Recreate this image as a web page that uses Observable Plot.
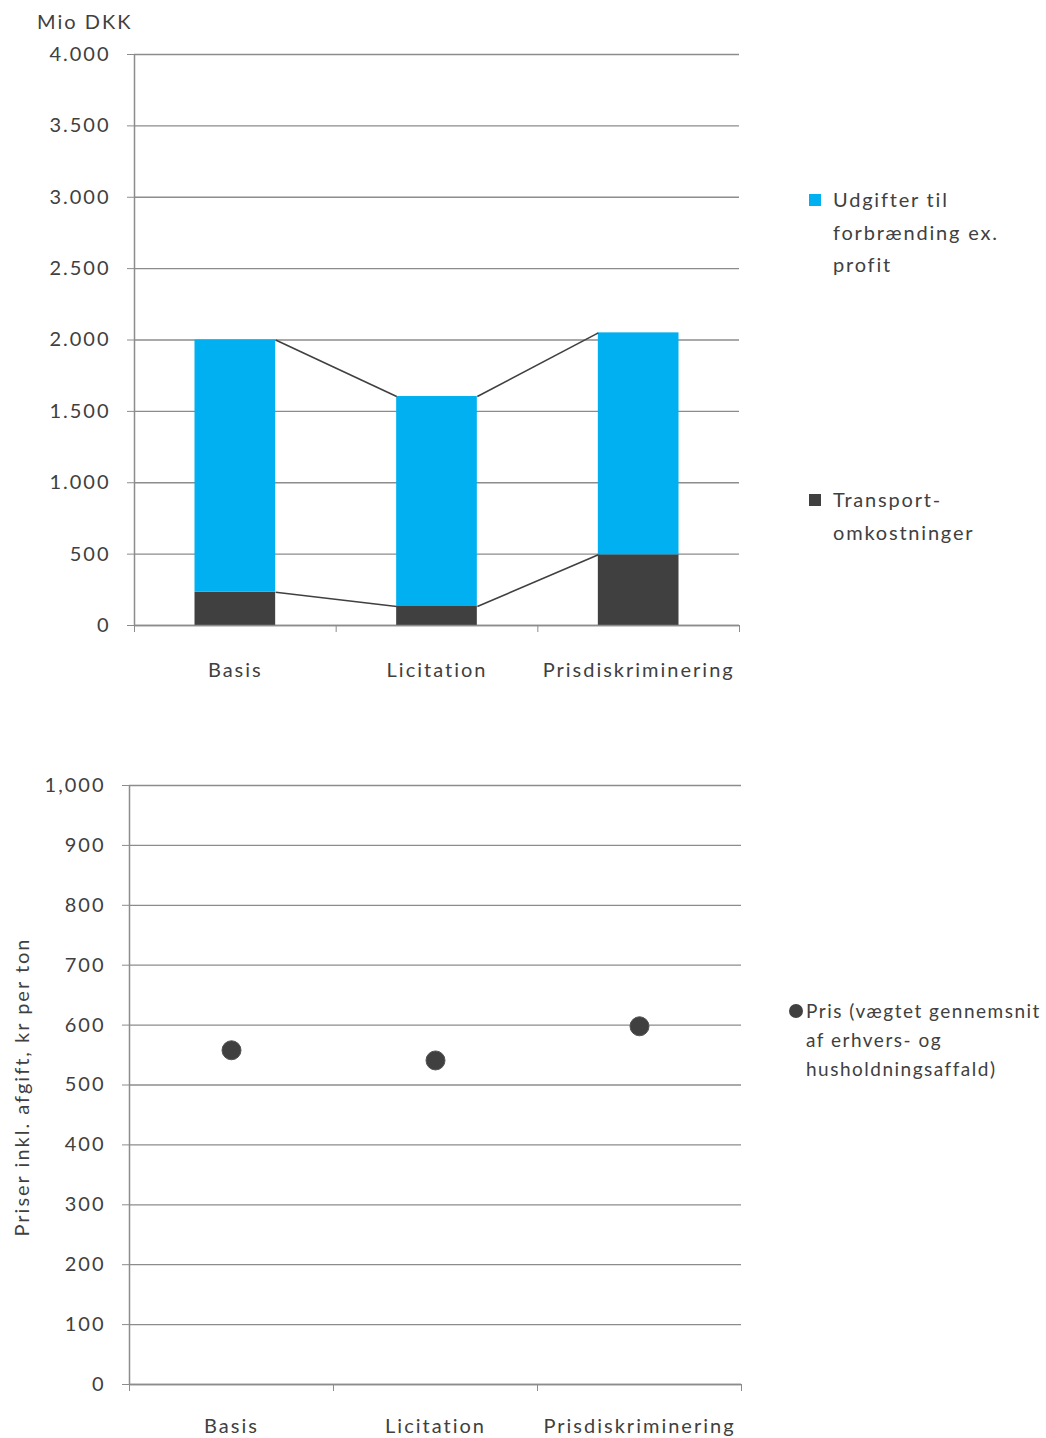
<!DOCTYPE html>
<html><head><meta charset="utf-8">
<script src="https://cdn.jsdelivr.net/npm/d3@7"></script>
<script src="https://cdn.jsdelivr.net/npm/@observablehq/plot@0.6"></script>
<style>
body{margin:0;background:#fff;font-family:Lato,sans-serif;color:#404040}
#wrap{position:relative;width:1046px;height:1438px;overflow:hidden;background:#fff}
.chart{position:absolute;left:0}
.txt{position:absolute;font-size:20px;letter-spacing:2px;white-space:nowrap;color:#404040}
.leg{position:absolute;font-size:20px;letter-spacing:1.8px;line-height:32.5px;white-space:nowrap;color:#404040}
.sq{position:absolute;width:12px;height:12px}
.dt{position:absolute;width:14px;height:14px;border-radius:50%;background:#404040}
</style></head><body>
<div id="wrap">
  <div id="chartTop" class="chart" style="top:0"></div>
  <div id="chartBot" class="chart" style="top:720px"></div>
  <div class="txt" style="left:37px;top:9px">Mio DKK</div>
  <div class="sq" style="left:809px;top:194px;background:#00b0f0"></div>
  <div class="leg" style="left:833px;top:183px">Udgifter til<br>forbrænding ex.<br>profit</div>
  <div class="sq" style="left:809px;top:494px;background:#404040"></div>
  <div class="leg" style="left:833px;top:483px">Transport-<br>omkostninger</div>
  <div class="dt" style="left:789px;top:1004px"></div>
  <div class="leg" style="left:806px;top:996px;font-size:19px;letter-spacing:1.5px;line-height:29px">Pris (vægtet gennemsnit<br>af erhvers- og<br>husholdningsaffald)</div>
</div>
<script>
// ---- data ----
const categories = ["Basis", "Licitation", "Prisdiskriminering"];
const transport = [233, 133, 495];          // Transportomkostninger, mio DKK
const udgifter = [1767, 1471, 1555];        // Udgifter til forbrænding ex. profit, mio DKK
const pris = [558, 541, 598];               // Pris inkl. afgift, kr per ton
const topTicks = [0, 500, 1000, 1500, 2000, 2500, 3000, 3500, 4000];
const botTicks = [0, 100, 200, 300, 400, 500, 600, 700, 800, 900, 1000];

const BLUE = "#00b0f0", DARK = "#404040", GRID = "#8c8c8c";
const hw = 0.2; // half bar width in category units
const dk = d3.formatLocale({decimal: ",", thousands: ".", grouping: [3], currency: ["", ""]}).format(",d");
const en = d3.format(",d");

const idx = categories.map((c, i) => i);
const rows = [];
idx.forEach(i => {
  rows.push({i, s: "Transport", y1: 0, y2: transport[i]});
  rows.push({i, s: "Udgifter", y1: transport[i], y2: transport[i] + udgifter[i]});
});
const totals = idx.map(i => transport[i] + udgifter[i]);
const links = [];
for (let i = 0; i < categories.length - 1; i++) {
  links.push({x1: i + hw, x2: i + 1 - hw, y1: totals[i], y2: totals[i + 1]});
  links.push({x1: i + hw, x2: i + 1 - hw, y1: transport[i], y2: transport[i + 1]});
}
const bounds = [-0.5, 0.5, 1.5, 2.5];
const style = {fontFamily: "Lato, sans-serif", fontSize: "20px", letterSpacing: "2px", color: DARK, background: "white"};

const plotTop = Plot.plot({
  width: 760, height: 700,
  marginLeft: 134, marginRight: 21, marginTop: 54, marginBottom: 75,
  style,
  x: {type: "linear", domain: [-0.5, 2.5]},
  y: {domain: [0, 4000]},
  marks: [
    Plot.gridY(topTicks, {stroke: GRID, strokeOpacity: 1, strokeWidth: 1.3}),
    Plot.axisY(topTicks, {tickFormat: dk, tickSize: 7, tickPadding: 17, stroke: GRID, fill: DARK, label: null, fontSize: 20}),
    Plot.axisX(bounds, {tickFormat: () => "", tickSize: 7, stroke: GRID, label: null}),
    Plot.axisX(idx, {tickFormat: i => categories[i], tickSize: 0, tickPadding: 37, fill: DARK, label: null, fontSize: 20}),
    Plot.ruleX([-0.5], {stroke: GRID, strokeWidth: 1.5}),
    Plot.rectY(rows, {x1: d => d.i - hw, x2: d => d.i + hw, y1: "y1", y2: "y2", fill: d => d.s === "Transport" ? DARK : BLUE}),
    Plot.link(links, {x1: "x1", x2: "x2", y1: "y1", y2: "y2", stroke: DARK, strokeWidth: 1.6}),
    Plot.ruleY([0], {stroke: GRID, strokeWidth: 1.5})
  ]
});
document.getElementById("chartTop").appendChild(plotTop);

const plotBot = Plot.plot({
  width: 760, height: 718,
  marginLeft: 129, marginRight: 19, marginTop: 65, marginBottom: 54,
  style,
  x: {type: "linear", domain: [-0.5, 2.5]},
  y: {domain: [0, 1000]},
  marks: [
    Plot.gridY(botTicks, {stroke: GRID, strokeOpacity: 1, strokeWidth: 1.3}),
    Plot.axisY(botTicks, {tickFormat: en, tickSize: 7, tickPadding: 17, stroke: GRID, fill: DARK, label: null, fontSize: 20}),
    Plot.axisX(bounds, {tickFormat: () => "", tickSize: 7, stroke: GRID, label: null}),
    Plot.axisX(idx, {tickFormat: i => categories[i], tickSize: 0, tickPadding: 34, fill: DARK, label: null, fontSize: 20}),
    Plot.ruleX([-0.5], {stroke: GRID, strokeWidth: 1.5}),
    Plot.ruleY([0], {stroke: GRID, strokeWidth: 1.5}),
    Plot.dot(idx, {x: i => i, y: i => pris[i], r: 9.5, fill: DARK, stroke: "#555", strokeWidth: 1}),
    Plot.text(["Priser inkl. afgift, kr per ton"], {frameAnchor: "left", rotate: -90, textAnchor: "middle", dx: -107, dy: 2, fill: DARK, fontSize: 20, letterSpacing: "1.2px"})
  ]
});
document.getElementById("chartBot").appendChild(plotBot);
</script>
</body></html>
